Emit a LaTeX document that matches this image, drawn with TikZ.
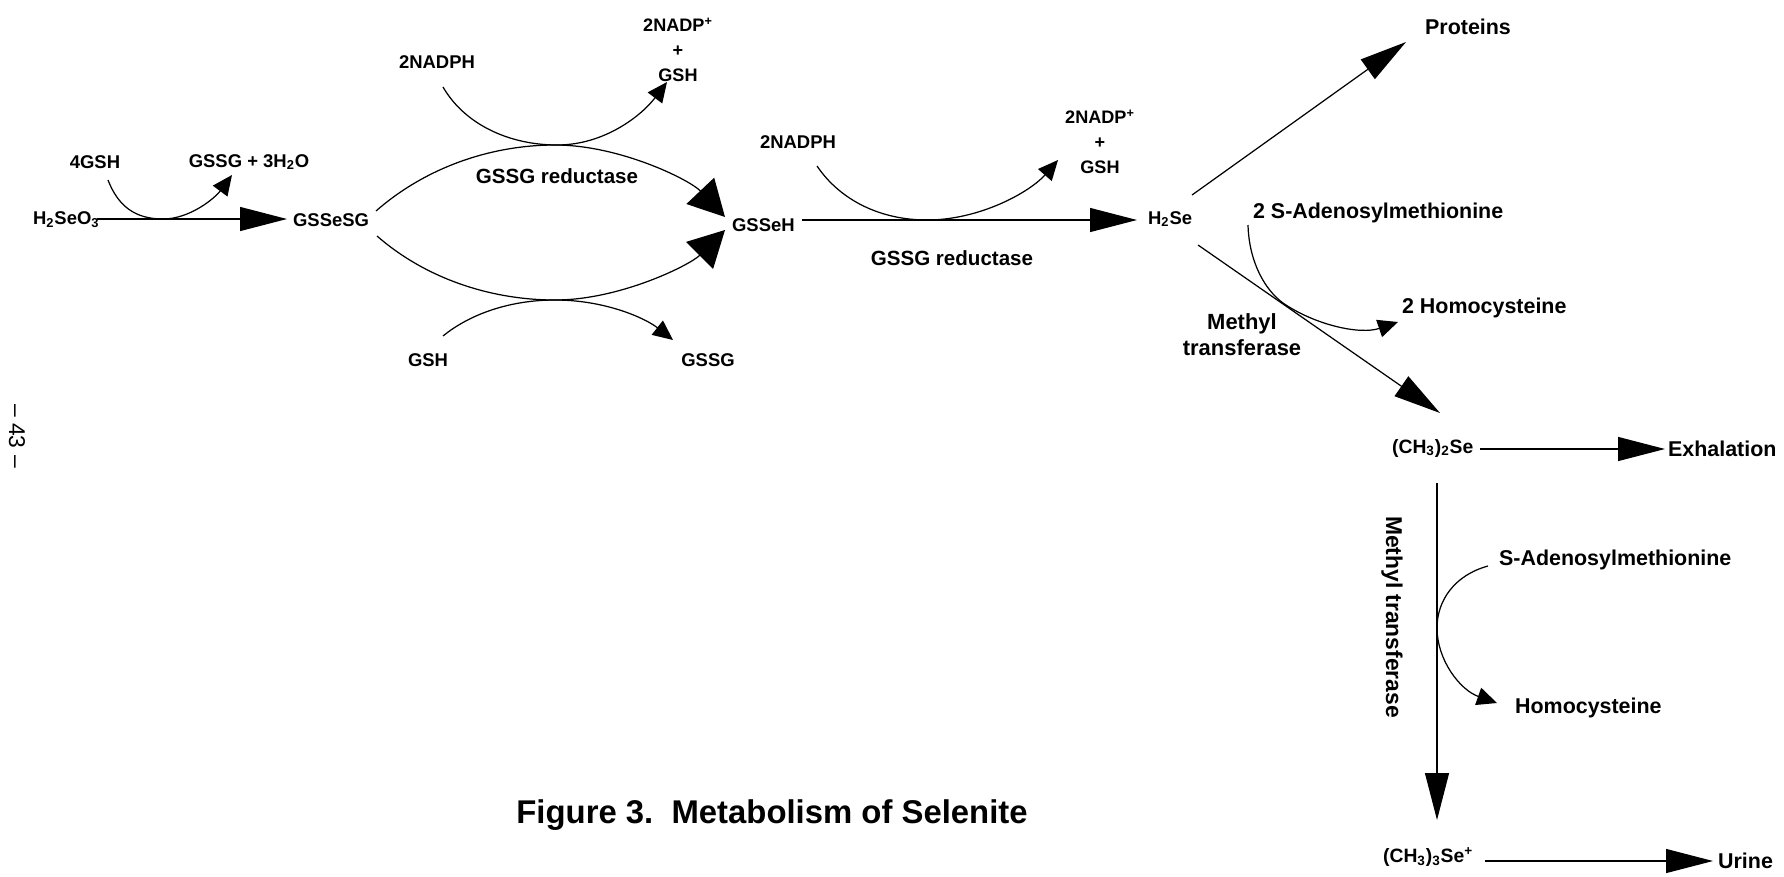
\documentclass[tikz,border=0pt]{standalone}
\usepackage{fontspec}
\setmainfont{Liberation Sans}
\usetikzlibrary{arrows.meta,calc}
\begin{document}
\begin{tikzpicture}[x=0.02cm,y=-0.02cm,
  lblA/.style={font=\fontsize{10.5}{12}\selectfont\bfseries, inner sep=1pt},
  lblB/.style={font=\fontsize{12.2}{14}\selectfont\bfseries, inner sep=1pt},
  lblC/.style={font=\fontsize{11}{13}\selectfont\bfseries, inner sep=1pt},
  stackA/.style={align=center, inner sep=1pt, font=\fontsize{10.3}{14.2}\selectfont\bfseries},
  conn/.style={line width=0.7pt},
  bigarrow/.style={conn, -{Triangle[length=9.4mm,width=4.8mm]}},
  fatarrow/.style={conn, -{Triangle[length=7.2mm,width=7.6mm]}},
  smallarrow/.style={conn, -{Triangle[length=4mm,width=3.6mm]}}]
\useasboundingbox (0,0) rectangle (1784,876);

% ---------- nodes ----------
\node[lblA, anchor=west] (h2seo3) at (31,220) {H\textsubscript{2}SeO\textsubscript{3}};
\node[lblA, anchor=west] (gssesg) at (291,220) {GSSeSG};
\node[lblA] (gsh4) at (95,162) {4GSH};
\node[lblA] (gssg3) at (249,162) {GSSG + 3H\textsubscript{2}O};
\node[lblA] (nadph1) at (437,62) {2NADPH};
\node[stackA] (nadp1) at (678,50) {2NADP\textsuperscript{+}\\+\\GSH};
\node[lblA, font=\fontsize{11.7}{14}\selectfont\bfseries] (red1) at (557,176) {GSSG reductase};
\node[lblA] (gshb) at (428,360) {GSH};
\node[lblA] (gssgb) at (708,360) {GSSG};
\node[lblA, anchor=west] (gsseh) at (730,225) {GSSeH};
\node[lblA] (nadph2) at (798,142) {2NADPH};
\node[stackA] (nadp2) at (1100,142) {2NADP\textsuperscript{+}\\+\\GSH};
\node[lblA, font=\fontsize{11.7}{14}\selectfont\bfseries] (red2) at (952,258) {GSSG reductase};
\node[lblA, anchor=west] (h2se) at (1146,219) {H\textsubscript{2}Se};
\node[lblB] (prot) at (1468,27) {Proteins};
\node[lblB, anchor=west] (sam2) at (1251,213) {2 S-Adenosylmethionine};
\node[lblB, anchor=west] (hcy2) at (1400,308) {2 Homocysteine};
\node[lblB, align=center, font=\fontsize{12.5}{14.8}\selectfont\bfseries] (mt1) at (1242,335) {Methyl\\transferase};
\node[lblC, anchor=west] (dmse) at (1390,448) {(CH\textsubscript{3})\textsubscript{2}Se};
\node[lblB, anchor=west] (exh) at (1666,449) {Exhalation};
\node[lblB, font=\fontsize{13}{15}\selectfont\bfseries, rotate=-90] (mt2) at (1392,617) {Methyl transferase};
\node[lblB, anchor=west] (sam1) at (1497,560) {S-Adenosylmethionine};
\node[lblB, anchor=west] (hcy1) at (1513,708) {Homocysteine};
\node[lblC, anchor=west] (tmse) at (1381,857) {(CH\textsubscript{3})\textsubscript{3}Se\textsuperscript{+}};
\node[lblB, anchor=west] (urine) at (1716,861) {Urine};
\node[font=\fontsize{18.7}{21}\selectfont\bfseries] (title) at (772,815) {Figure 3.\ \ Metabolism of Selenite};
\node[font=\fontsize{13}{15}\selectfont, rotate=-90] (page) at (17,436) {– 43 –};

% ---------- connector ports ----------
\coordinate (h2seo3-e) at (97,219);
\coordinate (gssesg-w) at (287,219);
\coordinate (gsh4-s) at (108,180);
\coordinate (gssg3-s) at (232,175);
\coordinate (gssesg-ne) at (376,211);
\coordinate (gssesg-se) at (377,236);
\coordinate (gsseh-nw) at (725,217);
\coordinate (gsseh-sw) at (725,230);
\coordinate (nadph1-s) at (443,87);
\coordinate (nadp1-s) at (667,82);
\coordinate (gshb-n) at (443,336);
\coordinate (gssgb-n) at (673,340);
\coordinate (gsseh-e) at (802,220);
\coordinate (h2se-w) at (1137,220);
\coordinate (nadph2-s) at (817,166);
\coordinate (nadp2-s) at (1058,160);
\coordinate (h2se-ne) at (1192,195);
\coordinate (prot-sw) at (1406,42);
\coordinate (h2se-se) at (1198,245);
\coordinate (dmse-n) at (1440,413);
\coordinate (sam2-s) at (1248,225);
\coordinate (hcy2-w) at (1398,322);
\coordinate (dmse-e) at (1480,449);
\coordinate (exh-w) at (1665,449);
\coordinate (dmse-s) at (1437,483);
\coordinate (tmse-n) at (1437,820);
\coordinate (sam1-w) at (1488,566);
\coordinate (hcy1-w) at (1497,703);
\coordinate (tmse-e) at (1485,861);
\coordinate (urine-w) at (1713,861);

% ---------- connectors ----------
\draw[bigarrow] (h2seo3-e) -- (gssesg-w);
\draw[smallarrow] (gsh4-s) .. controls (118,206) and (135,219) .. (163,219)
  .. controls (190,219) and (215,198) .. (gssg3-s);

\draw[fatarrow] (gssesg-ne) .. controls (425,168) and (490,145) .. (555,145)
  .. controls (620,145) and (690,180) .. (gsseh-nw);
\draw[fatarrow] (gssesg-se) .. controls (425,278) and (490,300) .. (555,300)
  .. controls (620,300) and (690,265) .. (gsseh-sw);
\draw[smallarrow] (nadph1-s) .. controls (465,125) and (510,145) .. (557,145)
  .. controls (605,145) and (642,115) .. (nadp1-s);
\draw[smallarrow] (gshb-n) .. controls (470,314) and (510,300) .. (555,300)
  .. controls (605,300) and (645,318) .. (gssgb-n);

\draw[bigarrow] (gsseh-e) -- (h2se-w);
\draw[smallarrow] (nadph2-s) .. controls (840,200) and (880,220) .. (927,220)
  .. controls (980,220) and (1030,192) .. (nadp2-s);

\draw[bigarrow] (h2se-ne) -- (prot-sw);
\draw[bigarrow] (h2se-se) -- (dmse-n);
\draw[smallarrow] (sam2-s) .. controls (1249,262) and (1265,290) .. (1283,303)
  .. controls (1315,325) and (1360,335) .. (hcy2-w);

\draw[bigarrow] (dmse-e) -- (exh-w);
\draw[bigarrow] (dmse-s) -- (tmse-n);
\draw[smallarrow] (sam1-w) .. controls (1455,575) and (1437,600) .. (1437,628)
  .. controls (1437,660) and (1460,690) .. (hcy1-w);
\draw[bigarrow] (tmse-e) -- (urine-w);
\end{tikzpicture}
\end{document}
